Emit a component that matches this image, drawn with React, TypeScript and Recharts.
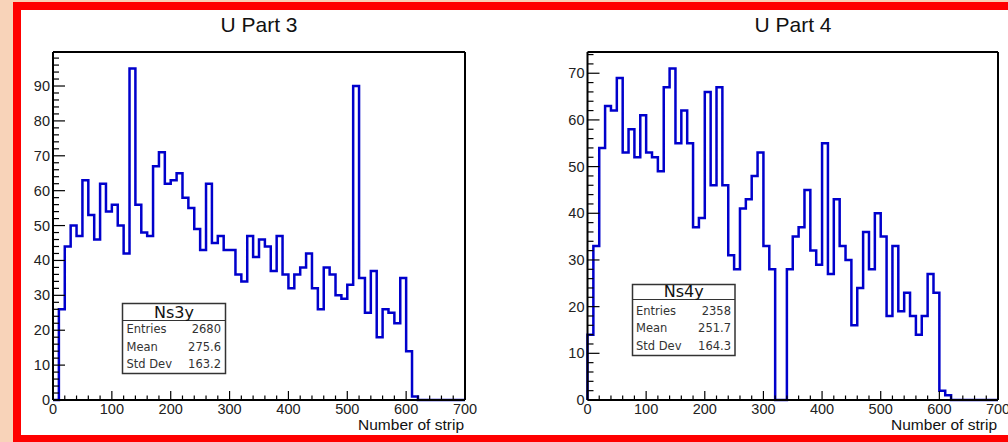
import React from 'react'
import { LineChart, Line, XAxis, YAxis } from 'recharts'

// histogram counts, 10-strip bins from 0 to 700
const BIN_WIDTH = 10
const X_MAX = 700

const ns3yCounts = [
  0, 26, 44, 50, 47, 63, 53, 46, 62, 54,
  56, 50, 42, 95, 56, 48, 47, 67, 71, 62,
  63, 65, 58, 55, 49, 43, 62, 45, 47, 43,
  43, 36, 34, 47, 41, 46, 44, 37, 47, 36,
  32, 36, 38, 42, 32, 26, 38, 36, 30, 29,
  33, 90, 35, 25, 37, 18, 26, 25, 22, 35,
  14, 1, 0, 0, 0, 0, 0, 0, 0, 0,
]

const ns4yCounts = [
  14, 33, 54, 63, 62, 69, 53, 58, 52, 61,
  53, 52, 49, 67, 71, 55, 62, 55, 37, 39,
  66, 46, 67, 46, 31, 28, 41, 43, 48, 53,
  33, 28, 0, 0, 28, 35, 37, 45, 32, 29,
  55, 27, 43, 33, 30, 16, 24, 36, 28, 40,
  35, 18, 33, 19, 23, 18, 14, 18, 27, 23,
  2, 1, 0, 0, 0, 0, 0, 0, 0, 0,
]

const ns3yStats = [
  ['Entries', '2680'],
  ['Mean', '275.6'],
  ['Std Dev', '163.2'],
]

const ns4yStats = [
  ['Entries', '2358'],
  ['Mean', '251.7'],
  ['Std Dev', '164.3'],
]

const xMajorTicks = [0, 100, 200, 300, 400, 500, 600, 700]
const X_MINOR_STEP = 20
const Y_MAJOR_STEP = 10
const Y_MINOR_STEP = 2

const FONT = '"Liberation Sans", Arial, Helvetica, sans-serif'
const BOX_FONT = '"DejaVu Sans", Verdana, sans-serif'
const HIST_COLOR = '#0000cc'

// step points: baseline at 0, one point per bin low edge, closing point at the end
function toSteps(counts: number[]) {
  const pts = [{ x: 0, y: 0 }]
  counts.forEach((c, i) => pts.push({ x: i * BIN_WIDTH, y: c }))
  pts.push({ x: counts.length * BIN_WIDTH, y: 0 })
  return pts
}

const xTicks: number[] = []
for (let v = 0; v <= X_MAX; v += X_MINOR_STEP) xTicks.push(v)

function yTicksFor(max: number) {
  const t: number[] = []
  for (let v = 0; v <= max; v += Y_MINOR_STEP) t.push(v)
  return t
}

const XTick = (props: any) => {
  const { x, y, payload } = props
  const major = xMajorTicks.includes(payload.value)
  return (
    <g>
      <line x1={x} x2={x} y1={y} y2={y - (major ? 9 : 4.5)} stroke="#000" strokeWidth={1.2} />
      {major && (
        <text x={x} y={y + 14} textAnchor="middle" fontSize={14.5} fill="#222" fontFamily={FONT}>
          {payload.value}
        </text>
      )}
    </g>
  )
}

const YTick = (props: any) => {
  const { x, y, payload } = props
  const major = payload.value % Y_MAJOR_STEP === 0
  return (
    <g>
      <line x1={x} x2={x + (major ? 12 : 6)} y1={y} y2={y} stroke="#000" strokeWidth={1.2} />
      {major && (
        <text x={x - 3} y={y + 5} textAnchor="end" fontSize={14.5} fill="#222" fontFamily={FONT}>
          {payload.value}
        </text>
      )}
    </g>
  )
}

interface PanelProps {
  counts: number[]
  left: number
  plotLeft: number
  plotRight: number
}

// plot frame runs from y=52 to y=400 in both panels
function HistPanel({ counts, left, plotLeft, plotRight }: PanelProps) {
  const data = toSteps(counts)
  const yMax = Math.max(...counts) * 1.05
  const frame = { stroke: '#000', strokeWidth: 2 }
  // each axis takes 1px, so margins are one short of the frame position
  const margin = { top: 51, bottom: 41, left: plotLeft - 1, right: 504 - plotRight - 1 }
  return (
    <div style={{ position: 'absolute', left, top: 0 }}>
      <LineChart width={504} height={442} data={data} margin={margin}>
        <XAxis
          type="number"
          dataKey="x"
          domain={[0, X_MAX]}
          ticks={xTicks}
          interval={0}
          tick={<XTick />}
          tickLine={false}
          tickSize={0}
          tickMargin={0}
          axisLine={frame}
          height={1}
        />
        <XAxis xAxisId="top" orientation="top" type="number" domain={[0, X_MAX]} tick={false} tickLine={false} axisLine={frame} height={1} />
        <YAxis
          type="number"
          domain={[0, yMax]}
          ticks={yTicksFor(yMax)}
          interval={0}
          tick={<YTick />}
          tickLine={false}
          tickSize={0}
          tickMargin={0}
          axisLine={frame}
          width={1}
        />
        <YAxis yAxisId="right" orientation="right" type="number" domain={[0, yMax]} tick={false} tickLine={false} axisLine={frame} width={1} />
        <Line
          type="stepAfter"
          dataKey="y"
          stroke={HIST_COLOR}
          strokeWidth={2.5}
          dot={false}
          isAnimationActive={false}
        />
      </LineChart>
    </div>
  )
}

function StatsBox({ x, y, w, h, head, name, rows, rowY, textL, textR }: any) {
  return (
    <g>
      <rect x={x} y={y} width={w} height={h} fill="#fff" stroke="#333" strokeWidth={1.5} />
      <line x1={x} x2={x + w} y1={y + head} y2={y + head} stroke="#333" strokeWidth={1.2} />
      <text x={x + w / 2} y={y + head - 3} textAnchor="middle" fontSize={16} fill="#111" fontFamily={BOX_FONT}>
        {name}
      </text>
      {rows.map((r: string[], i: number) => (
        <g key={r[0]}>
          <text x={textL} y={rowY[i]} fontSize={11.5} fill="#333" fontFamily={BOX_FONT}>{r[0]}</text>
          <text x={textR} y={rowY[i]} textAnchor="end" fontSize={11.5} fill="#333" fontFamily={BOX_FONT}>{r[1]}</text>
        </g>
      ))}
    </g>
  )
}

export default function App() {
  return (
    <div
      style={{
        position: 'absolute',
        left: 0,
        top: 0,
        width: 1008,
        height: 442,
        overflow: 'hidden',
        background: '#f8d3b9',
      }}
    >
      <div
        style={{
          position: 'absolute',
          left: 13,
          top: 2,
          width: 1020,
          height: 441,
          boxSizing: 'border-box',
          border: '8px solid #ff0000',
          background: '#fff',
        }}
      />
      <HistPanel counts={ns3yCounts} left={0} plotLeft={53} plotRight={465} />
      <HistPanel counts={ns4yCounts} left={504} plotLeft={83.5} plotRight={494} />
      <svg width={1008} height={442} style={{ position: 'absolute', left: 0, top: 0, pointerEvents: 'none' }}>
        <text x={259} y={32} textAnchor="middle" fontSize={21} fill="#111" fontFamily={FONT}>U Part 3</text>
        <text x={793} y={32} textAnchor="middle" fontSize={21} fill="#111" fontFamily={FONT}>U Part 4</text>
        <text x={464} y={429.5} textAnchor="end" fontSize={15.5} fill="#111" fontFamily={FONT}>Number of strip</text>
        <text x={997} y={429.5} textAnchor="end" fontSize={15.5} fill="#111" fontFamily={FONT}>Number of strip</text>
        <StatsBox
          x={122.5} y={303.5} w={103} h={70} head={17} name="Ns3y"
          rows={ns3yStats} rowY={[333, 350.5, 368]} textL={126.5} textR={221}
        />
        <StatsBox
          x={632.5} y={284.5} w={102.5} h={71} head={15} name="Ns4y"
          rows={ns4yStats} rowY={[314.5, 332, 350]} textL={636} textR={731}
        />
      </svg>
    </div>
  )
}
